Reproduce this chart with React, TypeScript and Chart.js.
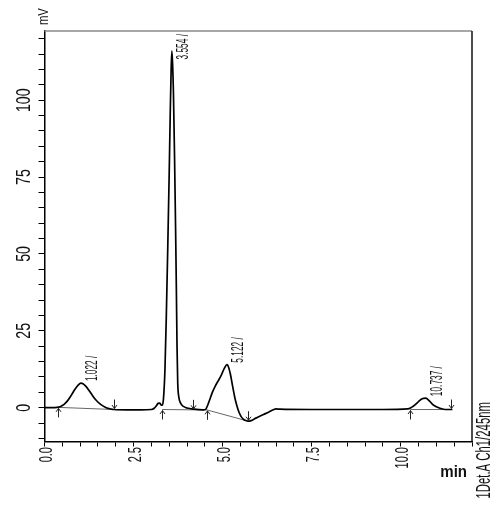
import { useEffect, useRef } from "react";
import { Chart, registerables } from "chart.js";

Chart.register(...registerables);

// chromatogram trace (min, mV)
const chromTime = [
  0.0, 0.2, 0.35, 0.45, 0.55, 0.65, 0.75, 0.85, 0.95, 1.02, 1.08, 1.15, 1.25, 1.35, 1.45, 1.55, 1.65, 1.75, 1.85, 1.95,
  2.3, 2.7, 3.0, 3.08, 3.14, 3.19, 3.24, 3.28, 3.31, 3.34, 3.38, 3.42, 3.46, 3.5, 3.53, 3.555, 3.575, 3.595, 3.62, 3.65,
  3.68, 3.7, 3.72, 3.74, 3.77, 3.82, 3.9, 4.0, 4.2, 4.45, 4.52, 4.58, 4.65, 4.72, 4.8, 4.88, 4.96, 5.04, 5.12, 5.16,
  5.22, 5.28, 5.34, 5.4, 5.46, 5.52, 5.58, 5.65, 5.72, 5.8, 5.9, 6.0, 6.15, 6.3, 6.42, 6.5, 6.6, 7.5, 8.5, 9.5, 10.2,
  10.3, 10.4, 10.5, 10.6, 10.7, 10.75, 10.82, 10.9, 11.0, 11.1, 11.2, 11.3, 11.45, 12.0,
];
const chromSignal = [
  0.0, 0.0, 0.1, 0.4, 1.1, 2.3, 4.0, 5.9, 7.4, 8.0, 7.8, 7.1, 5.6, 3.9, 2.4, 1.3, 0.5, -0.1, -0.4, -0.6,
  -0.7, -0.7, -0.6, -0.2, 0.6, 1.4, 1.5, 0.8, 0.9, 3.0, 12, 30, 52, 76, 96, 110, 116, 112, 102, 82,
  58, 40, 20, 8, 3.5, 1.5, 0.4, -0.1, -0.5, -0.7, -0.6, 0.8, 3.0, 5.2, 7.2, 8.8, 10.5, 12.6, 14.0, 13.4,
  10.8, 7.0, 3.4, 0.6, -1.5, -2.9, -3.7, -4.2, -4.4, -4.2, -3.6, -3.0, -2.2, -1.4, -0.7, -0.4, -0.5, -0.6, -0.6, -0.6,
  -0.4, 0.1, 0.9, 2.0, 2.9, 3.1, 2.8, 2.0, 1.0, 0.3, -0.2, -0.5, -0.6, -0.6,
];

// peak annotations
const peakApexTimes = [1.02, 3.575, 5.12, 10.72];
const peakHeights = [8.0, 116, 14.0, 3.1];
const peakLabels = ["1.022 /", "3.554 /", "5.122 /", "10.737 /"];

// integration marks (start / end arrows)
const markTimes = [0.38, 1.95, 3.3, 4.18, 4.55, 5.72, 10.27, 11.42];
const markLevels = [0.1, -0.6, -0.6, -0.7, -0.7, -4.4, -0.6, -0.6];
const markDirs = ["up", "down", "up", "down", "up", "down", "up", "down"];
const baselinePairs = [[0, 1], [2, 3], [3, 4], [4, 5], [6, 7]];

// axis tick labels
const xTickValues = [0, 2.5, 5, 7.5, 10];
const xTickLabels = ["0.0", "2.5", "5.0", "7.5", "10.0"];
const yTickValues = [0, 25, 50, 75, 100];
const yTickLabels = ["0", "25", "50", "75", "100"];

const FONT = "'Liberation Sans', Arial, sans-serif";

function rotText(ctx: CanvasRenderingContext2D, text: string, x: number, y: number, size: number, sx: number, align: CanvasTextAlign) {
  ctx.save();
  ctx.translate(x, y);
  ctx.rotate(-Math.PI / 2);
  ctx.scale(sx, 1);
  ctx.font = `${size}px ${FONT}`;
  ctx.textAlign = align;
  ctx.textBaseline = "alphabetic";
  ctx.fillText(text, 0, 0);
  ctx.restore();
}

const decor = {
  id: "decor",
  afterDraw(chart: any) {
    const ctx: CanvasRenderingContext2D = chart.ctx;
    const { left, right, top, bottom } = chart.chartArea;
    const xs = chart.scales.x;
    const ys = chart.scales.y;
    ctx.save();
    // frame: top and right
    ctx.lineWidth = 1.5;
    ctx.strokeStyle = "#8a8a8a";
    ctx.beginPath();
    ctx.moveTo(left, top);
    ctx.lineTo(right, top);
    ctx.stroke();
    ctx.strokeStyle = "#111";
    ctx.beginPath();
    ctx.moveTo(right, top);
    ctx.lineTo(right, bottom);
    ctx.stroke();

    ctx.fillStyle = "#111";
    // y tick labels
    yTickValues.forEach((v, i) => {
      rotText(ctx, yTickLabels[i], left - 15, ys.getPixelForValue(v), 21, 0.68, "center");
    });
    // x tick labels
    xTickValues.forEach((v, i) => {
      rotText(ctx, xTickLabels[i], xs.getPixelForValue(v) + 7, bottom + 5.5, 19, 0.58, "right");
    });
    // axis titles
    rotText(ctx, "mV", left + 3, 25, 15, 0.75, "left");
    ctx.save();
    ctx.font = `bold 16px ${FONT}`;
    ctx.textAlign = "right";
    ctx.textBaseline = "alphabetic";
    ctx.translate(right - 5, bottom + 35);
    ctx.scale(0.94, 1);
    ctx.fillText("min", 0, 0);
    ctx.restore();
    rotText(ctx, "1Det.A Ch1/245nm", right + 18, bottom + 57, 21, 0.54, "left");

    // peak labels
    peakLabels.forEach((lab, i) => {
      ctx.font = `16px ${FONT}`;
      const px = xs.getPixelForValue(peakApexTimes[i]);
      const py = ys.getPixelForValue(peakHeights[i]);
      const len = ctx.measureText(lab).width * 0.52;
      const sy = Math.max(py - 2, top + len + 3);
      rotText(ctx, lab, px + 16, sy, 16, 0.52, "left");
    });

    // integration arrows
    ctx.strokeStyle = "#222";
    ctx.lineWidth = 1;
    markTimes.forEach((t, i) => {
      const px = Math.round(xs.getPixelForValue(t)) + 0.5;
      const py = ys.getPixelForValue(markLevels[i]);
      const d = markDirs[i] === "up" ? 1 : -1;
      ctx.beginPath();
      ctx.moveTo(px, py + d * 1);
      ctx.lineTo(px, py + d * 10);
      ctx.moveTo(px - 2.5, py + d * 4.5);
      ctx.lineTo(px, py + d * 1);
      ctx.lineTo(px + 2.5, py + d * 4.5);
      ctx.stroke();
    });
    ctx.restore();
  },
};

export default function App() {
  const ref = useRef<HTMLCanvasElement | null>(null);
  useEffect(() => {
    if (!ref.current) return;
    const trace = chromTime.map((t, i) => ({ x: t, y: chromSignal[i] }));
    const baselineSets = baselinePairs.map(([a, b]) => ({
      data: [
        { x: markTimes[a], y: markLevels[a] },
        { x: markTimes[b], y: markLevels[b] },
      ],
      borderColor: "#666",
      borderWidth: 1,
      pointRadius: 0,
      tension: 0,
      order: 2,
    }));
    const chart = new Chart(ref.current, {
      type: "line",
      data: {
        datasets: [
          {
            data: trace,
            borderColor: "#000",
            borderWidth: 1.7,
            pointRadius: 0,
            cubicInterpolationMode: "monotone",
            order: 1,
          } as any,
          ...baselineSets,
        ],
      },
      options: {
        responsive: false,
        animation: false,
        events: [],
        layout: { padding: { left: 38.5, right: 28, top: 31, bottom: 58.5 } },
        plugins: { legend: { display: false }, tooltip: { enabled: false } },
        scales: {
          x: {
            type: "linear",
            min: 0,
            max: 12,
            ticks: { display: false, stepSize: 0.5, includeBounds: false },
            grid: { drawOnChartArea: false, drawTicks: true, tickLength: 5, color: "#000", lineWidth: 1 },
            border: { color: "#000", width: 1.5 },
          },
          y: {
            type: "linear",
            min: -11,
            max: 122.5,
            ticks: { display: false, stepSize: 5, includeBounds: false },
            grid: { drawOnChartArea: false, drawTicks: true, tickLength: 6, color: "#000", lineWidth: 1 },
            border: { color: "#000", width: 1.5 },
          },
        },
      } as any,
      plugins: [decor],
    });
    return () => chart.destroy();
  }, []);
  return (
    <div style={{ position: "absolute", left: 0, top: 0, width: 500, height: 505, background: "#fff" }}>
      <canvas ref={ref} width={500} height={505} style={{ display: "block" }} />
    </div>
  );
}
